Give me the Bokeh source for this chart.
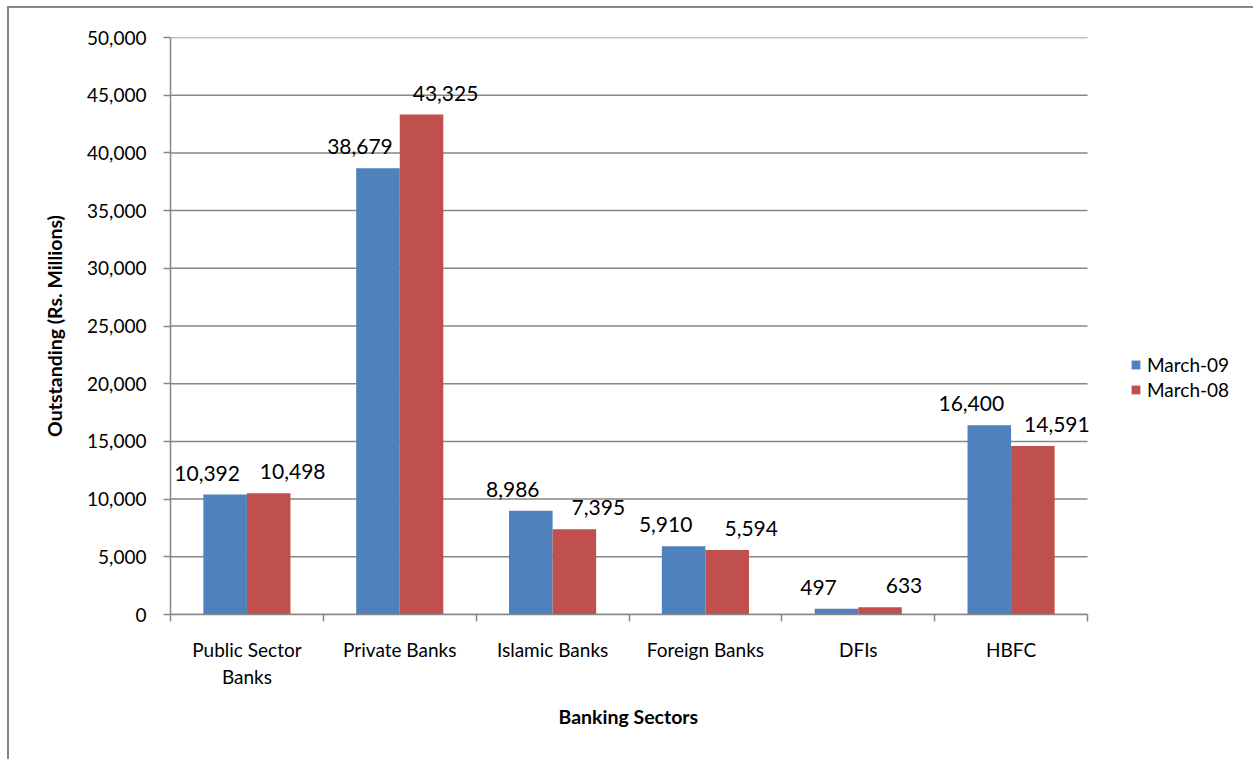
import numpy as np
from bokeh.plotting import figure
from bokeh.models import (ColumnDataSource, FixedTicker, NumeralTickFormatter, LinearAxis,
                          Legend, LegendItem, Range1d, Title)
from bokeh.embed import file_html
from bokeh.resources import INLINE
from bokeh.core.properties import value

categories = ["Public Sector\nBanks", "Private Banks", "Islamic Banks", "Foreign Banks", "DFIs", "HBFC"]
march_09 = [10392, 38679, 8986, 5910, 497, 16400]
march_08 = [10498, 43325, 7395, 5594, 633, 14591]
series_names = ["March-09", "March-08"]
y_ticks = list(range(0, 50001, 5000))
x_title = "Banking Sectors"
y_title = "Outstanding (Rs. Millions)"

FONT = "Lato"
BLUE = "#4F81BD"
RED = "#C0504D"
GRID = "#868686"
FS = "19px"
VFS = "21px"
TFS = "19.5px"

n = len(categories)
centers = np.arange(n) + 0.5
bw = 0.285

src = ColumnDataSource(dict(
    x09=centers - bw / 2, x08=centers + bw / 2,
    v09=march_09, v08=march_08,
    l09=[f"{v:,}" for v in march_09], l08=[f"{v:,}" for v in march_08],
))
grid_src = ColumnDataSource(dict(x0=[0] * len(y_ticks), x1=[n] * len(y_ticks), y=y_ticks))

W, H = 1246, 753
LEFT, TOP, BOTTOM = 161, 29, 147
PLOT_W = 917                      # pixel width of the category area
FRAME_W = W - LEFT                # frame extends to the right edge (room for legend)
x_end = n * FRAME_W / PLOT_W

p = figure(width=W, height=H, output_backend="svg", toolbar_location=None,
           x_range=Range1d(0, x_end), y_range=Range1d(0, 50000),
           x_axis_type=None, y_axis_type=None,
           min_border_left=LEFT, min_border_top=TOP, min_border_bottom=BOTTOM, min_border_right=0)
p.outline_line_color = None
p.background_fill_color = "white"
p.border_fill_color = "white"
p.styles = {"margin-left": "7px", "margin-top": "6px",
            "border-left": "2px solid #868686", "border-top": "2px solid #868686"}

yaxis = LinearAxis(ticker=FixedTicker(ticks=y_ticks), formatter=NumeralTickFormatter(format="0,0"))
yaxis.axis_label = y_title
yaxis.axis_label_text_font = FONT
yaxis.axis_label_text_font_style = "bold"
yaxis.axis_label_text_font_size = TFS
yaxis.axis_label_text_color = "black"
yaxis.axis_label_standoff = 18
yaxis.major_label_text_font = FONT
yaxis.major_label_text_font_size = FS
yaxis.major_label_text_color = "black"
yaxis.major_label_standoff = 17
yaxis.major_tick_out = 7
yaxis.major_tick_in = 0
yaxis.minor_tick_line_color = None
yaxis.major_tick_line_color = GRID
yaxis.major_tick_line_width = 1.5
yaxis.axis_line_color = GRID
yaxis.axis_line_width = 1.5
p.add_layout(yaxis, "left")

# horizontal gridlines spanning only the category area
p.segment(x0="x0", x1="x1", y0="y", y1="y", source=grid_src, line_color=GRID, line_width=1.5)

xaxis = LinearAxis(ticker=FixedTicker(ticks=list(centers), minor_ticks=list(range(n + 1))),
                   major_label_overrides={float(c): cat for c, cat in zip(centers, categories)},
                   bounds=(0, n))
xaxis.major_label_text_font = FONT
xaxis.major_label_text_font_size = FS
xaxis.major_label_text_color = "black"
xaxis.major_label_standoff = 16
xaxis.major_tick_out = 0
xaxis.major_tick_in = 0
xaxis.major_tick_line_color = None
xaxis.minor_tick_out = 7
xaxis.minor_tick_in = 0
xaxis.minor_tick_line_color = GRID
xaxis.minor_tick_line_width = 1.5
xaxis.axis_line_color = GRID
xaxis.axis_line_width = 1.5
p.add_layout(xaxis, "below")

# x-axis title, centred under the category area (not under the legend)
xt = Title(text=x_title, align="left", offset=388, text_font=FONT, text_font_style="bold",
           text_font_size=TFS, text_color="black", standoff=22)
p.add_layout(xt, "below")

r09 = p.vbar(x="x09", top="v09", width=bw, source=src, fill_color=BLUE, line_color=None)
r08 = p.vbar(x="x08", top="v08", width=bw, source=src, fill_color=RED, line_color=None)

p.text(x="x09", y="v09", text="l09", source=src, text_align="center", text_baseline="bottom",
       x_offset=-18, y_offset=-14, text_font=value(FONT), text_font_size=VFS, text_color="black")
p.text(x="x08", y="v08", text="l08", source=src, text_align="center", text_baseline="bottom",
       x_offset=24, y_offset=-14, text_font=value(FONT), text_font_size=VFS, text_color="black")

legend = Legend(items=[LegendItem(label=series_names[0], renderers=[r09]),
                       LegendItem(label=series_names[1], renderers=[r08])],
                location=(960, 213), orientation="vertical",
                glyph_width=11, glyph_height=11, label_standoff=6, spacing=2,
                padding=0, margin=0, border_line_color=None, background_fill_alpha=0,
                label_text_font=FONT, label_text_font_size=FS, label_text_color="black")
p.add_layout(legend, "center")

open("out.html", "w").write(file_html(p, INLINE))
